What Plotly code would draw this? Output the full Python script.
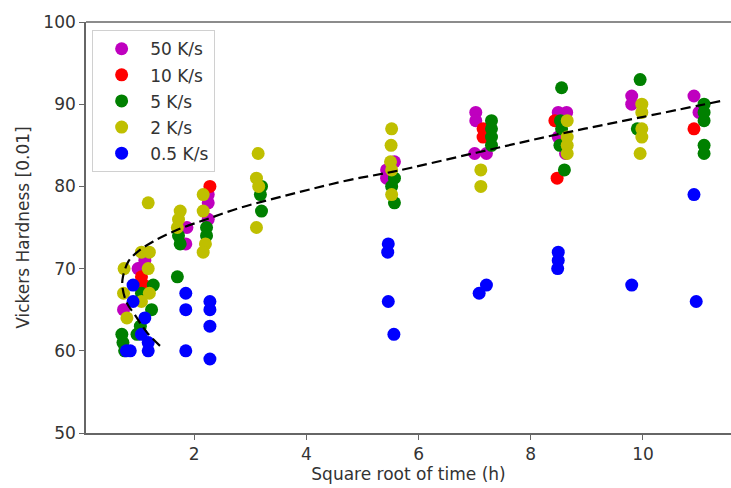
import plotly.graph_objects as go

# Vickers hardness vs square root of ageing time, per cooling rate
x_50 = [0.74, 1.0, 1.03, 1.12, 1.87, 1.85, 2.25, 2.25, 2.25, 5.57, 5.43, 5.43,
        7.02, 7.02, 7.0, 7.21, 8.49, 8.64, 8.49, 8.62, 9.8, 9.8, 10.91, 11.0]
y_50 = [65, 70, 70, 71, 75, 73, 79, 78, 76, 83, 82, 81,
        89, 88, 84, 84, 89, 89, 86, 84, 91, 90, 91, 89]

x_10 = [1.06, 1.1, 2.28, 7.15, 7.15, 8.43, 8.47, 10.91]
y_10 = [69, 68, 80, 87, 86, 88, 81, 87]

x_5 = [0.71, 0.73, 0.76, 0.98, 1.04, 1.24, 1.06, 1.27, 1.72, 1.75, 1.7,
       2.22, 2.22, 3.2, 3.18, 3.2, 5.57, 5.52, 5.57,
       7.3, 7.3, 7.3, 7.3, 8.55, 8.53, 8.55, 8.52, 8.6,
       9.95, 9.9, 11.09, 11.09, 11.09, 11.09, 11.09]
y_5 = [62, 61, 60, 62, 63, 65, 67, 68, 74, 73, 69,
       75, 74, 80, 79, 77, 81, 80, 78,
       88, 87, 86, 85, 92, 88, 87, 85, 82,
       93, 87, 90, 89, 88, 85, 84]

x_2 = [0.75, 0.74, 0.8, 1.06, 1.2, 1.18, 1.06, 1.2, 1.18, 1.75, 1.72, 1.7,
       2.16, 2.16, 2.2, 2.16, 3.14, 3.11, 3.15, 3.11,
       5.52, 5.51, 5.5, 5.52, 5.52, 7.11, 7.11,
       8.65, 8.65, 8.65, 8.65, 9.98, 9.98, 9.98, 9.98, 9.95]
y_2 = [70, 67, 64, 66, 67, 70, 72, 72, 78, 77, 76, 75,
       79, 77, 73, 72, 84, 81, 80, 75,
       87, 85, 83, 82, 79, 82, 80,
       88, 86, 85, 84, 90, 89, 87, 86, 84]

x_05 = [0.91, 0.91, 1.12, 1.06, 1.18, 0.79, 0.86, 1.18, 1.85, 1.85, 1.85,
        2.28, 2.28, 2.28, 2.28, 5.46, 5.45, 5.46, 5.56, 7.21, 7.08,
        8.49, 8.49, 8.48, 9.8, 10.91, 10.95]
y_05 = [68, 66, 64, 62, 61, 60, 60, 60, 67, 65, 60,
        66, 65, 63, 59, 73, 72, 66, 62, 68, 67,
        72, 71, 70, 68, 79, 66]

# fitted trend
fit_x = [1.39, 1.15, 0.94, 0.80, 0.72, 0.73, 0.83, 1.0, 1.27, 1.69, 2.22,
         2.82, 3.47, 4.1, 4.78, 5.55, 7.03, 8.46, 9.89, 11.4]
fit_y = [60.6, 62.3, 64.4, 65.8, 67.8, 69.0, 70.9, 72.1, 73.3, 74.7, 76.0,
         77.4, 78.6, 79.7, 80.8, 81.8, 84.1, 86.3, 88.3, 90.4]

series = [
    ("50 K/s", x_50, y_50, "#bf00bf"),
    ("10 K/s", x_10, y_10, "#ff0000"),
    ("5 K/s", x_5, y_5, "#008000"),
    ("2 K/s", x_2, y_2, "#bfbf00"),
    ("0.5 K/s", x_05, y_05, "#0000ff"),
]

FONT = "DejaVu Sans"
TXT = "#333333"
AX = "#666666"
FS = 17

fig = go.Figure()
for i, (name, xs, ys, col) in enumerate(series):
    fig.add_trace(go.Scatter(
        x=xs, y=ys, mode="markers", name=name, legendgroup=f"g{i}",
        marker=dict(color=col, size=13, line=dict(width=0)),
    ))

fig.add_trace(go.Scatter(
    x=fit_x, y=fit_y, mode="lines", showlegend=False,
    line=dict(color="black", width=2.2, dash="10px,5px", shape="spline", smoothing=1.0),
))

fig.update_layout(
    width=731, height=488,
    margin=dict(l=86, r=0, t=22, b=55),
    paper_bgcolor="white", plot_bgcolor="white",
    font=dict(family=FONT, size=FS, color=TXT),
    showlegend=True,
    legend=dict(
        x=0.0095, y=0.98, xanchor="left", yanchor="top",
        bgcolor="white", bordercolor="#d0d0d0", borderwidth=1,
        font=dict(family=FONT, size=FS, color=TXT),
        tracegroupgap=1, itemwidth=47,
    ),
    xaxis=dict(
        range=[0.071, 11.57], tickvals=[2, 4, 6, 8, 10],
        showgrid=False, zeroline=False,
        showline=True, linecolor=AX, linewidth=1.6,
        ticks="outside", ticklen=5, tickcolor=AX, tickwidth=1.4,
        tickfont=dict(size=FS),
        title=dict(text="Square root of time (h)", standoff=5, font=dict(size=FS)),
    ),
    yaxis=dict(
        range=[50, 100], tickvals=[50, 60, 70, 80, 90, 100],
        showgrid=False, zeroline=False,
        showline=True, linecolor=AX, linewidth=1.6,
        ticks="outside", ticklen=5, tickcolor=AX, tickwidth=1.4,
        tickfont=dict(size=FS),
        title=dict(text="Vickers Hardness [0.01]", standoff=9, font=dict(size=FS)),
    ),
    shapes=[dict(type="line", xref="paper", yref="paper", x0=0, x1=1, y0=1, y1=1,
                 line=dict(color=AX, width=1.6))],
)

fig.write_html("out.html")
